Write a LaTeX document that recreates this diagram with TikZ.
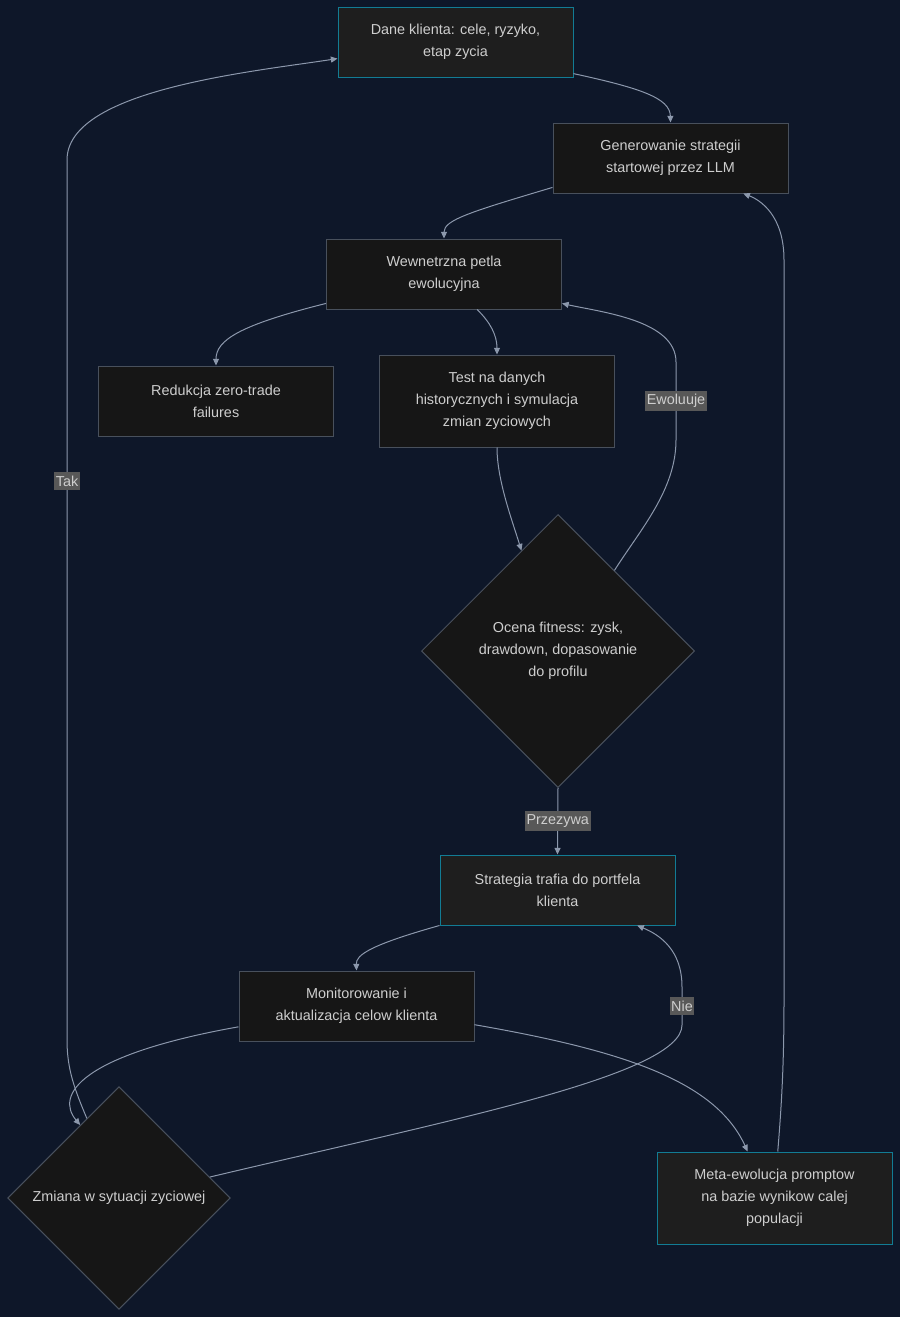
\documentclass[tikz,border=0pt]{standalone}
\usepackage{fontspec}
\setmainfont{Liberation Sans}
\usepackage{tikz}
\usetikzlibrary{arrows.meta, shapes.geometric}
\definecolor{bgnavy}{RGB}{14,23,41}
\definecolor{boxfill}{RGB}{30,30,30}
\definecolor{darkfill}{RGB}{22,22,22}
\definecolor{tealline}{RGB}{18,124,148}
\definecolor{greyline}{RGB}{72,80,92}
\definecolor{edgecol}{RGB}{140,152,172}
\definecolor{txtcol}{RGB}{206,206,206}
\definecolor{lblfill}{RGB}{88,88,88}
\tikzset{
  stepbox/.style ={draw=greyline, fill=darkfill, line width=0.75pt, minimum width=176.25pt, minimum height=52.5pt,
                   inner sep=0pt, text=txtcol, align=center, font=\fontsize{10.8}{16.5}\selectfont},
  keybox/.style  ={stepbox, draw=tealline, fill=boxfill},
  decide/.style  ={diamond, aspect=1, draw=greyline, fill=darkfill, line width=0.75pt, inner sep=0pt,
                   text=txtcol, align=center, font=\fontsize{10.8}{16.5}\selectfont},
  flow/.style    ={-{Triangle[length=5pt, width=4.5pt]}, draw=edgecol, line width=0.75pt},   % plain connector
  elbl/.style    ={fill=lblfill, text=txtcol, inner xsep=1.2pt, inner ysep=2.6pt, font=\fontsize{10.8}{12}\selectfont},
}

\begin{document}
\begin{tikzpicture}[x=0.75pt, y=-0.75pt]
  \fill[bgnavy] (0,0) rectangle (900,1317);
  \useasboundingbox (0,0) rectangle (900,1317);

  % main column
  \node[keybox]  (dane)  at (455.5,42)  {Dane klienta: cele, ryzyko,\\etap zycia};
  \node[stepbox] (gen)   at (670.5,158) {Generowanie strategii\\startowej przez LLM};
  \node[stepbox] (wew)   at (444,274)   {Wewnetrzna petla\\ewolucyjna};
  \node[stepbox] (red)   at (216,401)   {Redukcja zero-trade\\failures};
  \node[stepbox, minimum height=69pt] (test) at (497,401)
    {Test na danych\\historycznych i symulacja\\zmian zyciowych};
  \node[decide, minimum width=204.75pt, minimum height=204.75pt] (ocena) at (558,651)
    {Ocena fitness: zysk,\\drawdown, dopasowanie\\do profilu};
  \node[keybox]  (strat) at (557.5,890) {Strategia trafia do portfela\\klienta};
  \node[stepbox] (mon)   at (356.5,1006) {Monitorowanie i\\aktualizacja celow klienta};
  \node[decide, minimum width=167pt, minimum height=167pt] (zmiana) at (119,1198)
    {Zmiana w sytuacji zyciowej};
  \node[keybox, minimum height=69pt] (meta) at (774.5,1198)
    {Meta-ewolucja promptow\\na bazie wynikow calej\\populacji};

  % forward edges
  \draw[flow] (dane.-15) .. controls (640,88) and (670,98) .. (gen.north);
  \draw[flow] (gen.194) .. controls (470,212) and (444,220) .. (wew.north);
  \draw[flow] (wew.194) .. controls (240,325) and (216,340) .. (red.north);
  \draw[flow] (wew.-47.6) .. controls (490,322) and (497,335) .. (test.north);
  \draw[flow] (test.south) .. controls (497,480) and (512,520) .. (ocena.110);
  \draw[flow] (ocena.south) -- node[elbl]{Przezywa} (strat.north);
  \draw[flow] (strat.south west) .. controls (370,945) and (356,955) .. (mon.north);
  \draw[flow] (mon.190.6) .. controls (80,1055) and (55,1095) .. (zmiana.118);
  \draw[flow] (mon.-9.7) .. controls (620,1050) and (715,1080) .. (meta.120);

  % loops back
  \draw[flow] (ocena.55) .. controls (640,530) and (676,490) .. (676,440)
    -- node[elbl]{Ewoluuje} (676,362) .. controls (676,320) and (600,312) .. (wew.-14);
  \draw[flow] (zmiana.13) .. controls (450,1120) and (682,1075) .. (682,1025)
    -- node[elbl]{Nie} (682,987) .. controls (682,950) and (660,935) .. (strat.-24.6);
  \draw[flow] (zmiana.112) .. controls (75,1090) and (67,1070) .. (67,1040)
    -- node[elbl, pos=0.635]{Tak} (67,160) .. controls (67,90) and (250,72) .. (dane.188.7);
  \draw[flow] (meta.86) .. controls (782,1100) and (784,1060) .. (784,1000)
    -- (784,260) .. controls (784,215) and (760,200) .. (gen.-26.7);
\end{tikzpicture}
\end{document}
